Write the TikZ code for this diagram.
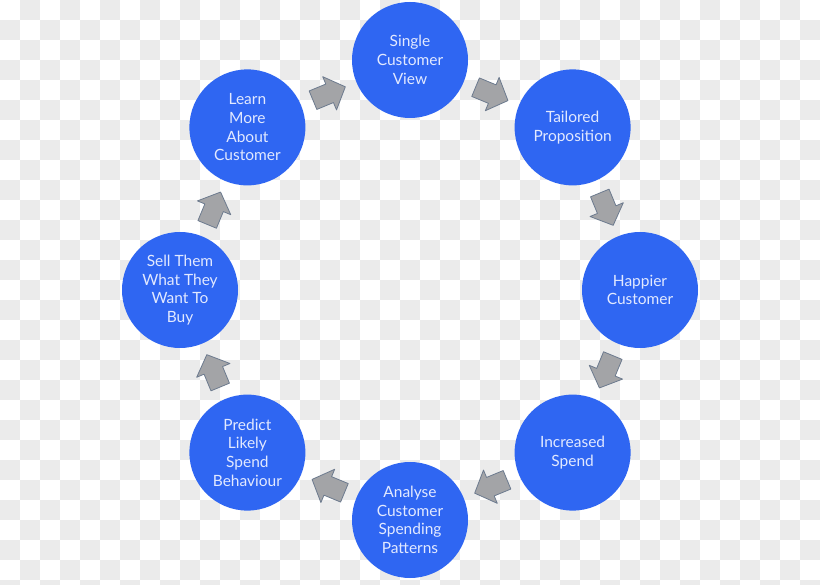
\documentclass[tikz,border=0pt]{standalone}
\usepackage{fontspec}
\setmainfont{Lato}
\usetikzlibrary{calc}
\definecolor{circblue}{HTML}{2F66F2}
\definecolor{txtcol}{HTML}{E2E9FF}
\definecolor{arrfill}{HTML}{A3A4A7}
\definecolor{arredge}{HTML}{6C7A8E}
\definecolor{checker}{HTML}{EBEBEB}
\tikzset{
  stage/.style={circle, fill=circblue, minimum size=116pt, inner sep=0pt,
    text=txtcol, align=center, font=\fontsize{15.5}{18.7}\selectfont},
  flowarrow/.pic={
    \draw[fill=arrfill, draw=arredge, line width=0.8pt, line join=round]
      (-17,-10) -- (1,-10) -- (1,-18) -- (18,0) -- (1,18) -- (1,10) -- (-17,10) -- cycle;
  }
}
\begin{document}
\begin{tikzpicture}[x=1pt,y=-1pt]
\useasboundingbox (0,0) rectangle (820,585);
\begin{scope}
\clip (0,0) rectangle (820,585);
\fill[white] (0,0) rectangle (820,585);
\foreach \i in {0,...,40} {
  \foreach \j in {0,...,29} {
    \pgfmathtruncatemacro\p{mod(\i+\j,2)}
    \ifnum\p=1 \fill[checker] (\i*20,\j*20) rectangle ++(20,20); \fi
  }
}
\end{scope}

\node[stage] (c1) at (410,60)  {Single\\Customer\\View};
\node[stage] (c2) at (572.6,127.4) {Tailored\\Proposition};
\node[stage] (c3) at (640,290) {Happier\\Customer};
\node[stage] (c4) at (572.6,452.6) {Increased\\Spend};
\node[stage] (c5) at (410,520) {Analyse\\Customer\\Spending\\Patterns};
\node[stage] (c6) at (247.4,452.6) {Predict\\Likely\\Spend\\Behaviour};
\node[stage] (c7) at (180,290) {Sell Them\\What They\\Want To\\Buy};
\node[stage] (c8) at (247.4,127.4) {Learn\\More\\About\\Customer};

\pic[rotate=22.5]   at ($(c8)!0.5!(c1)$) {flowarrow};
\pic[rotate=-22.5]  at ($(c1)!0.5!(c2)$) {flowarrow};
\pic[rotate=-67.5]  at ($(c2)!0.5!(c3)$) {flowarrow};
\pic[rotate=-112.5] at ($(c3)!0.5!(c4)$) {flowarrow};
\pic[rotate=-157.5] at ($(c4)!0.5!(c5)$) {flowarrow};
\pic[rotate=157.5]  at ($(c5)!0.5!(c6)$) {flowarrow};
\pic[rotate=112.5]  at ($(c6)!0.5!(c7)$) {flowarrow};
\pic[rotate=67.5]   at ($(c7)!0.5!(c8)$) {flowarrow};
\end{tikzpicture}
\end{document}
